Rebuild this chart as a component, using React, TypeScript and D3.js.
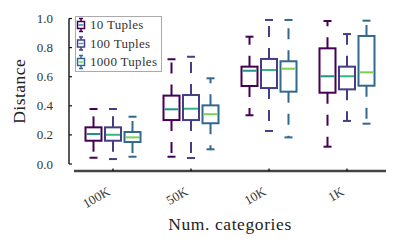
import React, { useEffect, useRef } from 'react';
import * as d3 from 'd3';

// categories on the x axis
const categories = ['100K', '50K', '10K', '1K'];
const seriesNames = ['10 Tuples', '100 Tuples', '1000 Tuples'];
const yTicks = [0, 0.2, 0.4, 0.6, 0.8, 1.0];

// box stats per series, one value per category (whisker low, q1, median, q3, whisker high)
const lo10 = [0.043, 0.05, 0.335, 0.119];
const q1_10 = [0.16, 0.302, 0.536, 0.49];
const med10 = [0.206, 0.376, 0.641, 0.603];
const q3_10 = [0.252, 0.47, 0.669, 0.795];
const hi10 = [0.378, 0.72, 0.875, 0.983];

const lo100 = [0.034, 0.041, 0.227, 0.296];
const q1_100 = [0.16, 0.302, 0.522, 0.513];
const med100 = [0.201, 0.38, 0.646, 0.603];
const q3_100 = [0.252, 0.474, 0.722, 0.669];
const hi100 = [0.378, 0.737, 0.99, 0.893];

const lo1000 = [0.05, 0.101, 0.183, 0.277];
const q1_1000 = [0.151, 0.28, 0.497, 0.538];
const med1000 = [0.183, 0.342, 0.655, 0.63];
const q3_1000 = [0.22, 0.403, 0.706, 0.88];
const hi1000 = [0.325, 0.589, 0.99, 0.985];

const boxColors = ['#440154', '#433e85', '#30688e'];
const medianColors = ['#21918c', '#35b779', '#7ad151'];

const FONT = "'Liberation Serif', 'DejaVu Serif', serif";

type Box = { cat: string; series: string; idx: number; lo: number; q1: number; med: number; q3: number; hi: number };

const App = () => {
  const svgRef = useRef<SVGSVGElement>(null);
  const width = 399;
  const height = 246;

  useEffect(() => {
    if (!svgRef.current) return;
    const svg = d3.select(svgRef.current);
    svg.selectAll('*').remove();

    const los = [lo10, lo100, lo1000];
    const q1s = [q1_10, q1_100, q1_1000];
    const meds = [med10, med100, med1000];
    const q3s = [q3_10, q3_100, q3_1000];
    const his = [hi10, hi100, hi1000];

    const boxes: Box[] = [];
    seriesNames.forEach((s, si) => {
      categories.forEach((c, ci) => {
        boxes.push({ cat: c, series: s, idx: si, lo: los[si][ci], q1: q1s[si][ci], med: meds[si][ci], q3: q3s[si][ci], hi: his[si][ci] });
      });
    });

    const x = d3.scaleBand<string>().domain(categories).range([74, 386]);
    const inner = d3.scaleBand<string>().domain(seriesNames).range([-29.25, 29.25]);
    const y = d3.scaleLinear().domain([0, 1]).range([164, 18.5]);
    const boxW = 16;
    const capW = 8;

    // y 轴
    svg.append('line')
      .attr('x1', 69).attr('x2', 69)
      .attr('y1', y(1)).attr('y2', y(0))
      .attr('stroke', '#111').attr('stroke-width', 1.4);

    yTicks.forEach(t => {
      svg.append('line')
        .attr('x1', 69).attr('x2', 72)
        .attr('y1', y(t)).attr('y2', y(t))
        .attr('stroke', '#111').attr('stroke-width', 1.2);
      svg.append('text')
        .attr('x', 53).attr('y', y(t) + 4.5)
        .attr('text-anchor', 'end')
        .style('font-family', FONT).attr('font-size', 13)
        .attr('fill', '#333')
        .text(d3.format('.1f')(t));
    });

    svg.append('text')
      .attr('transform', `translate(25,${(y(0) + y(1)) / 2}) rotate(-90)`)
      .attr('text-anchor', 'middle')
      .style('font-family', FONT).attr('font-size', 17.5)
      .attr('letter-spacing', 0.5)
      .attr('fill', '#222')
      .text('Distance');

    // x 轴
    const [x0, x1] = x.range();
    svg.append('line')
      .attr('x1', x0).attr('x2', x1)
      .attr('y1', 171).attr('y2', 171)
      .attr('stroke', '#444').attr('stroke-width', 2.4);

    categories.forEach(c => {
      const cx = (x(c) as number) + x.bandwidth() / 2;
      svg.append('line')
        .attr('x1', cx).attr('x2', cx)
        .attr('y1', 168.5).attr('y2', 171)
        .attr('stroke', '#000').attr('stroke-width', 1.2);
      svg.append('text')
        .attr('transform', `translate(${cx - 2},194) rotate(-30)`)
        .attr('text-anchor', 'end')
        .style('font-family', FONT).attr('font-size', 13)
        .attr('fill', '#333')
        .text(c);
    });

    svg.append('text')
      .attr('x', (x0 + x1) / 2).attr('y', 230)
      .attr('text-anchor', 'middle')
      .style('font-family', FONT).attr('font-size', 17.5)
      .attr('letter-spacing', 0.6)
      .attr('fill', '#222')
      .text('Num. categories');

    // 箱线图
    boxes.forEach(b => {
      const cx = (x(b.cat) as number) + x.bandwidth() / 2 + (inner(b.series) as number) + inner.bandwidth() / 2;
      const col = boxColors[b.idx];
      const g = svg.append('g');

      // whiskers (dashed, starting at the box edge)
      g.append('line')
        .attr('x1', cx).attr('x2', cx)
        .attr('y1', y(b.q3)).attr('y2', y(b.hi))
        .attr('stroke', col).attr('stroke-width', 2)
        .attr('stroke-dasharray', '11,11');
      g.append('line')
        .attr('x1', cx).attr('x2', cx)
        .attr('y1', y(b.q1)).attr('y2', y(b.lo))
        .attr('stroke', col).attr('stroke-width', 2)
        .attr('stroke-dasharray', '11,11');

      // caps
      [b.lo, b.hi].forEach(v => {
        g.append('line')
          .attr('x1', cx - capW / 2).attr('x2', cx + capW / 2)
          .attr('y1', y(v)).attr('y2', y(v))
          .attr('stroke', col).attr('stroke-width', 2);
      });

      g.append('rect')
        .attr('x', cx - boxW / 2).attr('width', boxW)
        .attr('y', y(b.q3)).attr('height', y(b.q1) - y(b.q3))
        .attr('fill', '#fff')
        .attr('stroke', col).attr('stroke-width', 2);

      g.append('line')
        .attr('x1', cx - boxW / 2 + 1).attr('x2', cx + boxW / 2 - 1)
        .attr('y1', y(b.med)).attr('y2', y(b.med))
        .attr('stroke', medianColors[b.idx]).attr('stroke-width', 2);
    });

    // 图例
    const legend = svg.append('g');
    legend.append('rect')
      .attr('x', 75.5).attr('y', 16.5)
      .attr('width', 86).attr('height', 55)
      .attr('fill', '#fff')
      .attr('stroke', '#aaa').attr('stroke-width', 1);

    seriesNames.forEach((s, i) => {
      const cy = 25 + i * 18.5;
      const lx = 81;
      const col = boxColors[i];
      legend.append('line')
        .attr('x1', lx).attr('x2', lx)
        .attr('y1', cy - 6.5).attr('y2', cy + 6.5)
        .attr('stroke', col).attr('stroke-width', 1.5);
      [cy - 6.5, cy + 6.5].forEach(v => {
        legend.append('line')
          .attr('x1', lx - 2).attr('x2', lx + 2)
          .attr('y1', v).attr('y2', v)
          .attr('stroke', col).attr('stroke-width', 1.5);
      });
      legend.append('rect')
        .attr('x', lx - 3.5).attr('y', cy - 3.5)
        .attr('width', 7).attr('height', 7)
        .attr('fill', '#fff')
        .attr('stroke', col).attr('stroke-width', 1.5);
      legend.append('line')
        .attr('x1', lx - 2.5).attr('x2', lx + 2.5)
        .attr('y1', cy).attr('y2', cy)
        .attr('stroke', medianColors[i]).attr('stroke-width', 1.5);
      legend.append('text')
        .attr('x', 90).attr('y', cy + 4)
        .style('font-family', FONT).attr('font-size', 13)
        .attr('letter-spacing', 0.3)
        .attr('fill', '#333')
        .text(s);
    });
  }, []);

  return (
    <svg
      ref={svgRef}
      width={width}
      height={height}
      style={{ position: 'absolute', left: 0, top: 0, background: '#fff' }}
    />
  );
};

export default App;
